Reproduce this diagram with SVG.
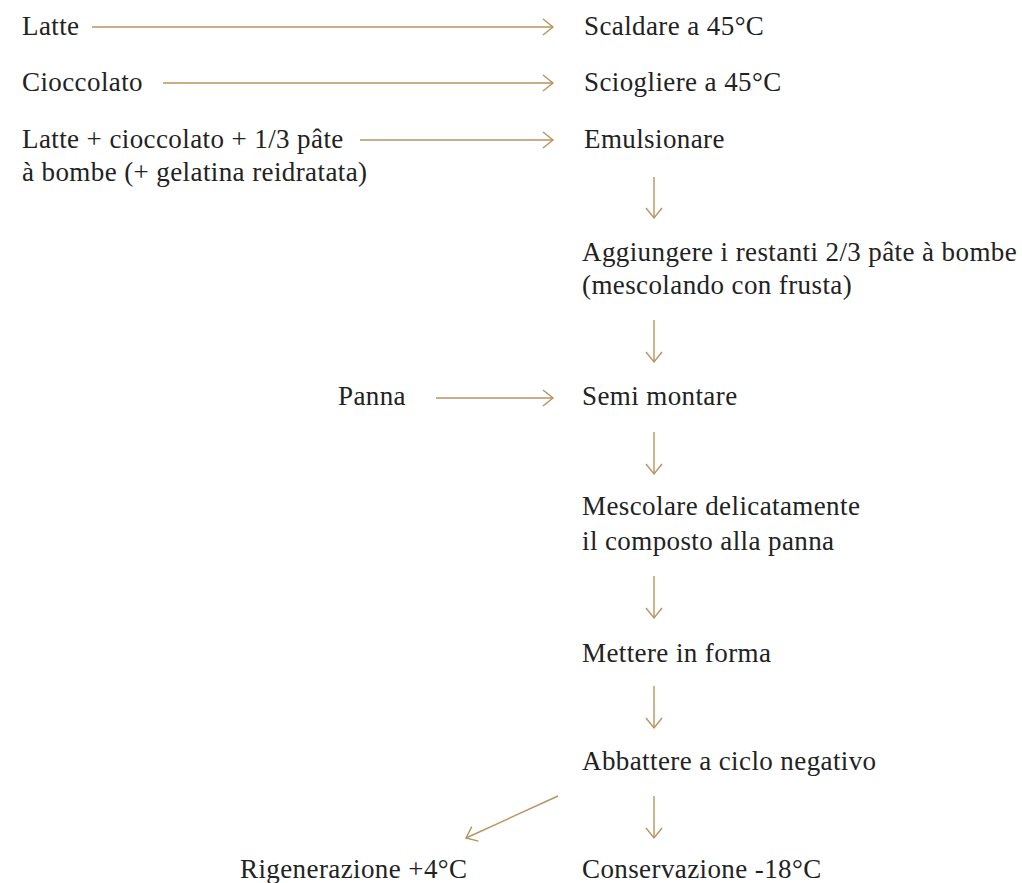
<svg xmlns="http://www.w3.org/2000/svg" width="1022" height="883" viewBox="0 0 1022 883">
<defs>
<marker id="ah" viewBox="-12 -9 14 18" markerWidth="14" markerHeight="18" refX="0" refY="0" orient="auto" markerUnits="userSpaceOnUse">
<path d="M-10,-8 L0,0 L-10,8" fill="none" stroke="#b8935f" stroke-width="1.4"/>
</marker>
<style>
text{font-family:"Liberation Serif","DejaVu Serif",serif;font-size:27px;letter-spacing:0.4px;fill:#222}
.c line{stroke:#b8935f;stroke-width:1.4;marker-end:url(#ah)}
</style>
</defs>
<rect width="1022" height="883" fill="#fff"/>
<g class="c" id="connectors">
<line x1="92" y1="27" x2="553" y2="27"/>
<line x1="163" y1="83" x2="553" y2="83"/>
<line x1="360" y1="140" x2="553" y2="140"/>
<line x1="436" y1="398" x2="553" y2="398"/>
<line x1="654" y1="177" x2="654" y2="218"/>
<line x1="654" y1="320" x2="654" y2="362"/>
<line x1="654" y1="432" x2="654" y2="474"/>
<line x1="654" y1="576" x2="654" y2="618"/>
<line x1="654" y1="686" x2="654" y2="728"/>
<line x1="654" y1="796" x2="654" y2="838"/>
<line x1="558" y1="796" x2="466" y2="838"/>
</g>
<g id="latte"><text x="22" y="35">Latte</text></g>
<g id="cioccolato"><text x="22" y="91">Cioccolato</text></g>
<g id="mix"><text x="22" y="148">Latte + cioccolato + 1/3 pâte</text><text x="22" y="181">à bombe (+ gelatina reidratata)</text></g>
<g id="scaldare"><text x="584" y="35">Scaldare a 45°C</text></g>
<g id="sciogliere"><text x="584" y="91">Sciogliere a 45°C</text></g>
<g id="emulsionare"><text x="584" y="148">Emulsionare</text></g>
<g id="aggiungere"><text x="582" y="261">Aggiungere i restanti 2/3 pâte à bombe</text><text x="582" y="294">(mescolando con frusta)</text></g>
<g id="panna"><text x="338" y="405">Panna</text></g>
<g id="semi"><text x="582" y="405">Semi montare</text></g>
<g id="mescolare"><text x="582" y="515">Mescolare delicatamente</text><text x="582" y="550">il composto alla panna</text></g>
<g id="mettere"><text x="582" y="662">Mettere in forma</text></g>
<g id="abbattere"><text x="582" y="770">Abbattere a ciclo negativo</text></g>
<g id="rigenerazione"><text x="240" y="878">Rigenerazione +4°C</text></g>
<g id="conservazione"><text x="582" y="878">Conservazione -18°C</text></g>
</svg>
